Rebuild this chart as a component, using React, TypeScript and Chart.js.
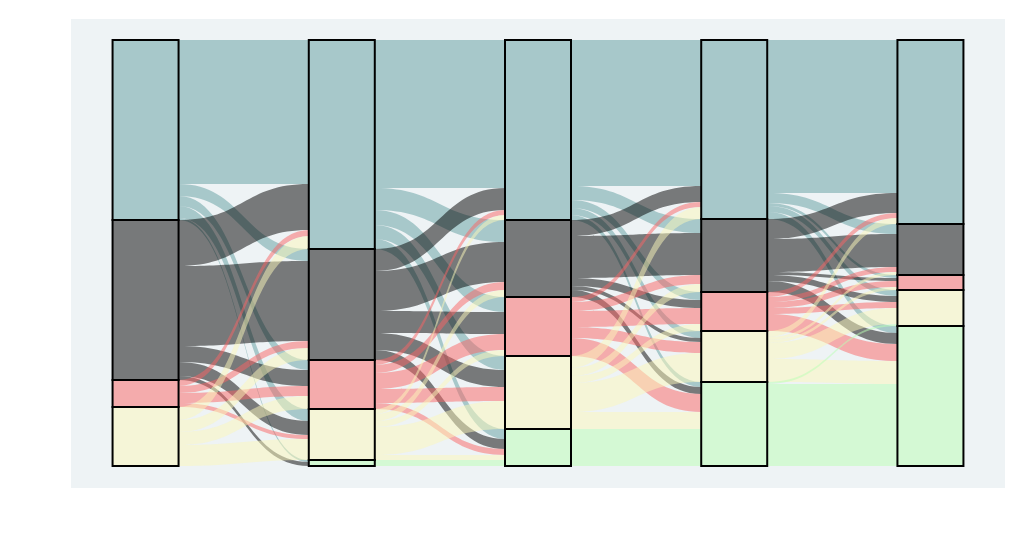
import React, { useEffect, useRef } from 'react';
import { Chart, registerables } from 'chart.js';

Chart.register(...registerables);

// Stages (columns) and categories (top-down order inside every column)
const STAGES = ['Stage 1', 'Stage 2', 'Stage 3', 'Stage 4', 'Stage 5'];
const CATEGORIES = ['Category A', 'Category B', 'Category C', 'Category D', 'Category E'];

// Flow matrices: rows = source category, columns = target category
const FLOWS_1_2 = [
  [144, 12, 10, 12, 2],
  [46, 80, 16, 14, 4],
  [6, 7, 10, 4, 0],
  [13, 12, 13, 21, 0],
  [0, 0, 0, 0, 0],
];
const FLOWS_2_3 = [
  [148, 22, 15, 14, 10],
  [22, 40, 22, 17, 10],
  [5, 8, 16, 14, 6],
  [5, 7, 6, 28, 5],
  [0, 0, 0, 0, 6],
];
const FLOWS_3_4 = [
  [146, 14, 8, 7, 5],
  [16, 42, 8, 4, 7],
  [5, 9, 16, 11, 18],
  [12, 8, 7, 29, 17],
  [0, 0, 0, 0, 37],
];
const FLOWS_4_5 = [
  [153, 10, 3, 6, 7],
  [20, 33, 3, 6, 11],
  [5, 5, 6, 6, 17],
  [6, 3, 3, 16, 23],
  [0, 0, 0, 2, 82],
];

const TRANSITIONS = [FLOWS_1_2, FLOWS_2_3, FLOWS_3_4, FLOWS_4_5];

const COLORS = [
  'rgba(95,158,160,0.5)',
  'rgba(0,0,0,0.5)',
  'rgba(250,100,100,0.5)',
  'rgba(252,248,185,0.5)',
  'rgba(185,255,180,0.5)',
];
const PANEL_BG = 'rgb(238,243,245)';

// node sizes derived from the flows
function nodeSizes(): number[][] {
  const out: number[][] = [];
  out.push(TRANSITIONS[0].map((row) => row.reduce((a, b) => a + b, 0)));
  TRANSITIONS.forEach((m) => {
    out.push(CATEGORIES.map((_, j) => m.reduce((a, row) => a + row[j], 0)));
  });
  return out;
}

export default function App() {
  const ref = useRef<HTMLCanvasElement | null>(null);

  useEffect(() => {
    if (!ref.current) return;
    const nodes = nodeSizes();
    const totals = nodes.map((n) => n.reduce((a, b) => a + b, 0));
    const maxTotal = Math.max(...totals);

    const datasets = [4, 3, 2, 1, 0].map((k) => ({
      label: CATEGORIES[k],
      data: STAGES.map((_, s) => ({ x: s, y: nodes[s][k] })),
      backgroundColor: COLORS[k],
      borderWidth: 0,
      barThickness: 66,
    }));

    const sankeyPlugin = {
      id: 'sankeyFlows',
      beforeDraw(chart: any) {
        const { ctx, chartArea } = chart;
        ctx.save();
        ctx.fillStyle = PANEL_BG;
        ctx.fillRect(chartArea.left, chartArea.top, chartArea.right - chartArea.left, chartArea.bottom - chartArea.top);
        ctx.restore();
      },
      beforeDatasetsDraw(chart: any) {
        const { ctx } = chart;
        const yScale = chart.scales.y;
        const meta = chart.getDatasetMeta(0);
        const yPix = (off: number, s: number) => yScale.getPixelForValue(totals[s] - off);
        ctx.save();
        TRANSITIONS.forEach((m, t) => {
          const elL = meta.data[t].getProps(['x', 'width'], true);
          const elR = meta.data[t + 1].getProps(['x', 'width'], true);
          const xL = elL.x + elL.width / 2;
          const xR = elR.x - elR.width / 2;
          const xm = (xL + xR) / 2;
          const srcOff: number[] = [];
          const tgtOff: number[] = [];
          let a = 0;
          let b = 0;
          for (let k = 0; k < CATEGORIES.length; k++) {
            srcOff.push(a);
            tgtOff.push(b);
            a += nodes[t][k];
            b += nodes[t + 1][k];
          }
          const tgtCur = tgtOff.slice();
          for (let i = 0; i < CATEGORIES.length; i++) {
            let cur = srcOff[i];
            for (let j = 0; j < CATEGORIES.length; j++) {
              const v = m[i][j];
              if (v <= 0) continue;
              const a0 = yPix(cur, t);
              const a1 = yPix(cur + v, t);
              const b0 = yPix(tgtCur[j], t + 1);
              const b1 = yPix(tgtCur[j] + v, t + 1);
              cur += v;
              tgtCur[j] += v;
              ctx.beginPath();
              ctx.moveTo(xL, a0);
              ctx.bezierCurveTo(xm, a0, xm, b0, xR, b0);
              ctx.lineTo(xR, b1);
              ctx.bezierCurveTo(xm, b1, xm, a1, xL, a1);
              ctx.closePath();
              ctx.fillStyle = COLORS[i];
              ctx.fill();
            }
          }
        });
        ctx.restore();
      },
      afterDatasetsDraw(chart: any) {
        const { ctx } = chart;
        ctx.save();
        ctx.strokeStyle = '#000';
        ctx.lineWidth = 2;
        chart.data.datasets.forEach((_: any, di: number) => {
          const meta = chart.getDatasetMeta(di);
          meta.data.forEach((el: any) => {
            const p = el.getProps(['x', 'y', 'base', 'width'], true);
            const top = Math.min(p.y, p.base);
            const h = Math.abs(p.base - p.y);
            if (h < 0.5) return;
            ctx.strokeRect(p.x - p.width / 2, top, p.width, h);
          });
        });
        ctx.restore();
      },
    };

    const chart = new Chart(ref.current, {
      type: 'bar',
      data: { datasets: datasets as any },
      options: {
        animation: false,
        responsive: false,
        maintainAspectRatio: false,
        layout: { padding: { left: 71, right: 19, top: 19, bottom: 71 } },
        plugins: { legend: { display: false }, tooltip: { enabled: false } },
        scales: {
          x: {
            type: 'linear',
            offset: false,
            min: -0.38,
            max: STAGES.length - 1 + 0.38,
            stacked: true,
            display: false,
            grid: { display: false },
          },
          y: { min: -22, max: maxTotal + 21, stacked: true, display: false, grid: { display: false } },
        },
      },
      plugins: [sankeyPlugin],
    });
    return () => chart.destroy();
  }, []);

  return (
    <div style={{ position: 'fixed', left: 0, top: 0, width: 1024, height: 559, background: '#fff' }}>
      <canvas ref={ref} width={1024} height={559} style={{ width: 1024, height: 559, display: 'block' }} />
    </div>
  );
}
